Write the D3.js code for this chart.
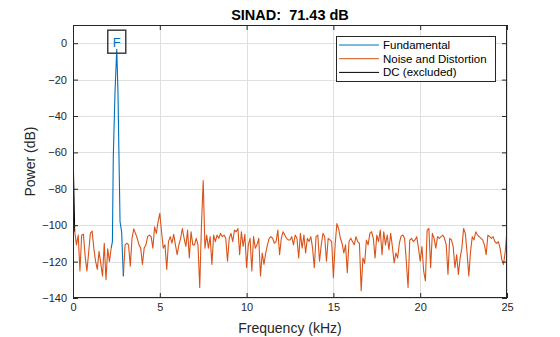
<!DOCTYPE html>
<html>
<head>
<meta charset="utf-8">
<script src="https://cdn.jsdelivr.net/npm/d3@7"></script>
<style>
  html, body { margin: 0; padding: 0; background: #fff; }
  svg { display: block; font-family: Arial, "Liberation Sans", Helvetica, sans-serif; }
</style>
</head>
<body>
<svg id="chart" width="560" height="337"></svg>
<script>
// ---------- data ----------
const titleText = "SINAD:  71.43 dB";
const xTicks = [0, 5, 10, 15, 20, 25];
const yTicks = [0, -20, -40, -60, -80, -100, -120, -140];
const legendLabels = ["Fundamental", "Noise and Distortion", "DC (excluded)"];

// Fundamental (kHz, dB)
const fundFreq = [2.2, 2.27, 2.32, 2.42, 2.52, 2.59, 2.65, 2.71, 2.8, 2.9];
const fundPower = [-112.6, -109, -63, -26.6, -3.3, -26.6, -63, -98, -103.6, -128];

// DC (excluded)
const dcFreq = [0, 0.05, 0.1];
const dcPower = [-57, -80, -103.6];

// Noise and distortion: bins every 0.1 kHz from 0.1 to 25.0 kHz (null = fundamental bins)
const binKHz = 0.1;
const noisePower = [
  -103.6,-110.8,-105.4,-125.2,-105.4,-105,-117.1,-125.2,-115.3,-104.5,
  -103.2,-112.6,-119.8,-124.3,-114.4,-121,-128,-110,-130,-113,
  -120,-112.6,null,null,null,null,null,null,-128,-110.8,
  -109.9,-110.8,-122.5,-107.2,-102,-104.5,-107.2,-110.8,-112.6,-121.6,
  -112.6,-110.8,-106.3,-105.4,-106.3,-112.6,-100.9,-104.5,-98.2,-93.5,
  -103.6,-112.6,-110.8,-124.3,-109,-106.3,-109.9,-105,-110.8,-116.2,
  -110.8,-107.2,-101.8,-107.2,-111.7,-102.7,-118,-103.6,-110.8,-110.8,
  -107.2,-110.8,-134.2,-100,-75.5,-112.6,-105.4,-112.6,-106.3,-121.6,
  -105.4,-109,-105.4,-107.2,-104.5,-106.3,-105.4,-107.2,-119.8,-107.2,
  -104.5,-109,-102.7,-103.6,-101.8,-116.2,-103.6,-111.7,-105,-123.4,
  -110.8,-107.2,-125.2,-106.3,-112.6,-110.8,-107.2,-127.9,-115.3,-121.6,
  -115.3,-110.8,-107.2,-106.3,-107.2,-109.9,-109,-102.7,-116.2,-107.2,
  -103.6,-105.4,-107.2,-108.1,-108.1,-106.3,-110.8,-105.4,-107.2,-118,
  -104.5,-112.6,-105.4,-115.3,-107.2,-109,-106.3,-112.6,-123.4,-106.3,
  -105.4,-119.8,-110.8,-104.5,-106.3,-119.8,-107.2,-108.1,-109,-128.8,
  -110.8,-99.1,-101.8,-107.2,-109.9,-115.3,-110.8,-126.1,-109,-107.2,
  -109,-110.8,-106.3,-109,-110,-136,-118,-121,-108.1,-110.8,
  -104.5,-103.6,-107.2,-118,-105.4,-109,-102.7,-116.2,-103.6,-110.8,
  -105.4,-113.5,-104.5,-112,-120.7,-115.3,-118,-109.9,-106,-105.4,
  -107.2,-119.8,-134.2,-108.1,-107.2,-109,-108.1,-106.3,-112.6,-119.8,
  -111.7,-125.2,-130.6,-102.7,-101.8,-123.4,-104.5,-107.2,-112.6,-106.3,
  -107.2,-106.3,-105.4,-107.2,-110.8,-127,-107.2,-108.1,-111.7,-123.4,
  -116.2,-127,-118,-112.6,-101.8,-104.5,-115.3,-127.9,-114.4,-106.3,
  -108.1,-103.6,-105.4,-106.3,-107.2,-108.1,-110.8,-116.2,-105.4,-106.3,
  -107.2,-106.3,-109,-110,-109,-112.6,-118.9,-121.6,-114.4,-102.7
];
const noiseFreq = noisePower.map((_, i) => +((i + 1) * binKHz).toFixed(2));

// ---------- layout ----------
const colors = { fund: "#0072BD", noise: "#D95319", dc: "#000000", axis: "#262626", grid: "#dfdfdf" };
const L = 73, R = 507, T = 25, B = 298;
const svg = d3.select("#chart");

const x = d3.scaleLinear().domain([0, 25]).range([L, R]);
const y = d3.scaleLinear().domain([-140, 10]).range([B, T]);

svg.append("rect").attr("x", L).attr("y", T).attr("width", R - L).attr("height", B - T).attr("fill", "#fff");

// grid
const grid = svg.append("g").attr("stroke", colors.grid).attr("stroke-width", 1).attr("shape-rendering", "crispEdges");
grid.selectAll("line.v").data(xTicks).join("line")
  .attr("x1", d => Math.round(x(d)) + 0.5).attr("x2", d => Math.round(x(d)) + 0.5)
  .attr("y1", T).attr("y2", B);
grid.selectAll("line.h").data(yTicks).join("line")
  .attr("y1", d => Math.round(y(d)) + 0.5).attr("y2", d => Math.round(y(d)) + 0.5)
  .attr("x1", L).attr("x2", R);

// lines
svg.append("clipPath").attr("id", "clip").append("rect")
  .attr("x", L).attr("y", T).attr("width", R - L).attr("height", B - T);
const plot = svg.append("g").attr("clip-path", "url(#clip)");

const line = d3.line().defined(d => d[1] !== null).x(d => x(d[0])).y(d => y(d[1]));

plot.append("path")
  .datum(noiseFreq.map((f, i) => [f, noisePower[i]]))
  .attr("fill", "none").attr("stroke", colors.noise).attr("stroke-width", 1.1).attr("stroke-linejoin", "round")
  .attr("d", line);
plot.append("path")
  .datum(fundFreq.map((f, i) => [f, fundPower[i]]))
  .attr("fill", "none").attr("stroke", colors.fund).attr("stroke-width", 1.1).attr("stroke-linejoin", "round")
  .attr("d", line);
plot.append("path")
  .datum(dcFreq.map((f, i) => [f, dcPower[i]]))
  .attr("fill", "none").attr("stroke", colors.dc).attr("stroke-width", 1)
  .attr("d", line);

// axes (ticks inward, MATLAB style)
const tickFont = 11;
const axL = svg.append("g").attr("transform", `translate(${L},0)`)
  .call(d3.axisLeft(y).tickValues(yTicks).tickSize(-5).tickPadding(6).tickFormat(d3.format("d")));
const axR = svg.append("g").attr("transform", `translate(${R},0)`)
  .call(d3.axisRight(y).tickValues(yTicks).tickSize(-5).tickFormat(""));
const axB = svg.append("g").attr("transform", `translate(0,${B})`)
  .call(d3.axisBottom(x).tickValues(xTicks).tickSize(-5).tickPadding(5).tickFormat(d3.format("d")));
const axT = svg.append("g").attr("transform", `translate(0,${T})`)
  .call(d3.axisTop(x).tickValues(xTicks).tickSize(-5).tickFormat(""));
[axL, axR, axB, axT].forEach(g => {
  g.select(".domain").remove();
  g.selectAll("line").attr("stroke", colors.axis);
  g.selectAll("text").attr("fill", colors.axis).style("font-size", tickFont + "px")
    .style("font-family", "Arial, 'Liberation Sans', sans-serif");
});
svg.append("rect").attr("x", L + 0.5).attr("y", T + 0.5).attr("width", R - L - 1).attr("height", B - T - 1)
  .attr("fill", "none").attr("stroke", colors.axis).attr("stroke-width", 1).attr("shape-rendering", "crispEdges");

// title and labels
svg.append("text").attr("x", (L + R) / 2).attr("y", 19.5).attr("text-anchor", "middle")
  .style("font-size", "14.5px").style("font-weight", "bold").style("white-space", "pre")
  .attr("xml:space", "preserve").attr("fill", "#000").text(titleText);
svg.append("text").attr("x", (L + R) / 2).attr("y", 333).attr("text-anchor", "middle")
  .style("font-size", "14px").attr("fill", colors.axis).text("Frequency (kHz)");
svg.append("text").attr("transform", `translate(35,${(T + B) / 2}) rotate(-90)`).attr("text-anchor", "middle")
  .style("font-size", "14px").attr("fill", colors.axis).text("Power (dB)");

// "F" marker at fundamental peak
const peakIdx = fundPower.indexOf(d3.max(fundPower));
const px = x(fundFreq[peakIdx]), py = y(fundPower[peakIdx]);
const fg = svg.append("g");
fg.append("rect").attr("x", px - 9).attr("y", py - 19).attr("width", 18).attr("height", 23)
  .attr("fill", "none").attr("stroke", "#404040").attr("stroke-width", 1.5);
fg.append("text").attr("x", px).attr("y", py - 2).attr("text-anchor", "middle")
  .style("font-size", "13px").attr("fill", colors.fund).text("F");

// legend
const lg = svg.append("g").attr("transform", "translate(336,36)");
lg.append("rect").attr("x", 0.5).attr("y", 0.5).attr("width", 159).attr("height", 45)
  .attr("fill", "#fff").attr("stroke", colors.axis).attr("stroke-width", 1);
const legColors = [colors.fund, colors.noise, colors.dc];
legendLabels.forEach((lab, i) => {
  const yy = 9 + i * 13.7;
  lg.append("line").attr("x1", 3).attr("x2", 43).attr("y1", yy).attr("y2", yy)
    .attr("stroke", legColors[i]).attr("stroke-width", 1);
  lg.append("text").attr("x", 47).attr("y", yy + 4).style("font-size", "11.5px").attr("fill", "#000").text(lab);
});
</script>
</body>
</html>
